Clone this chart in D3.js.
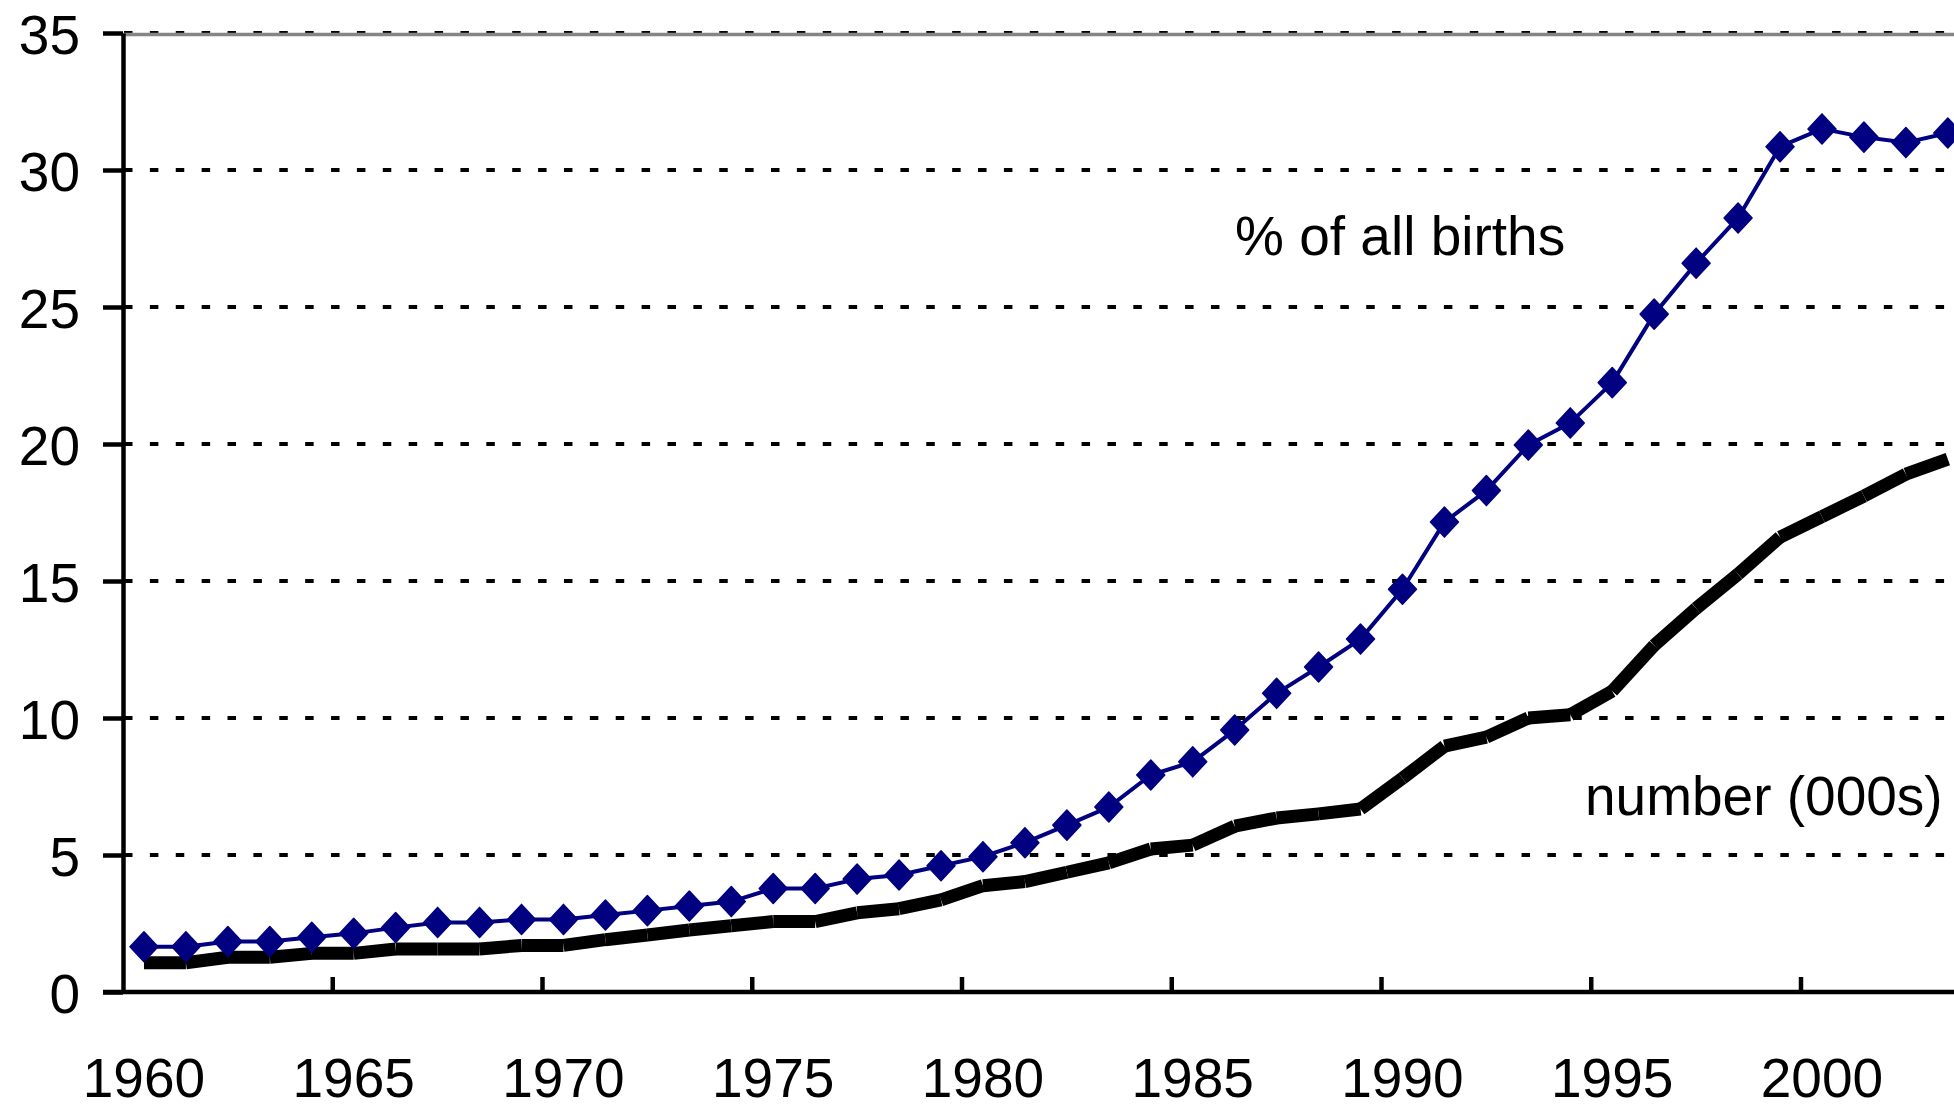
<!DOCTYPE html>
<html>
<head>
<meta charset="utf-8">
<script src="https://cdn.jsdelivr.net/npm/d3@7"></script>
<style>
  html, body { margin: 0; padding: 0; background: #fff; overflow: hidden; }
  svg { display: block; }
  text { font-family: "Liberation Sans", Arial, sans-serif; fill: #000; }
</style>
</head>
<body>
<svg id="chart" width="1954" height="1105"></svg>
<script>
// ---- data ----
const years = [1960,1961,1962,1963,1964,1965,1966,1967,1968,1969,
               1970,1971,1972,1973,1974,1975,1976,1977,1978,1979,
               1980,1981,1982,1983,1984,1985,1986,1987,1988,1989,
               1990,1991,1992,1993,1994,1995,1996,1997,1998,1999,
               2000,2001,2002,2003];
const pctOfAllBirths = [1.65,1.65,1.84,1.84,2.0,2.14,2.35,2.54,2.54,2.65,
                        2.65,2.81,2.97,3.14,3.3,3.78,3.78,4.12,4.27,4.61,
                        4.94,5.45,6.09,6.75,7.92,8.4,9.56,10.9,11.86,12.88,
                        14.7,17.15,18.3,19.96,20.77,22.24,24.74,26.6,28.25,30.85,
                        31.5,31.2,31.0,31.35];
const numberThousands = [1.07,1.07,1.27,1.27,1.41,1.41,1.57,1.57,1.57,1.7,
                         1.7,1.91,2.08,2.26,2.42,2.57,2.57,2.89,3.04,3.36,
                         3.88,4.03,4.37,4.71,5.22,5.36,6.05,6.35,6.5,6.68,
                         7.8,8.97,9.3,10.0,10.12,10.98,12.65,14.0,15.25,16.6,
                         17.35,18.1,18.9,19.45];
const yTicks = [0,5,10,15,20,25,30,35];
const xTickLabels = [1960,1965,1970,1975,1980,1985,1990,1995,2000];
const seriesLabels = ["% of all births", "number (000s)"];

// ---- layout ----
const svg = d3.select("#chart");
const plotLeft = 123, plotTop = 33, plotBottom = 992;
const bandW = 41.95;
const plotRight = plotLeft + years.length * bandW;
const FONT = 55;

const x = d3.scaleBand().domain(years).range([plotLeft, plotRight]).paddingInner(0).paddingOuter(0);
const cx = yr => x(yr) + x.bandwidth() / 2;
const y = d3.scaleLinear().domain([0, 35]).range([plotBottom, plotTop]);

// gridlines (dashed)
svg.append("g").selectAll("line").data(yTicks.filter(d => d > 0)).join("line")
  .attr("x1", plotLeft).attr("x2", plotRight)
  .attr("y1", d => y(d)).attr("y2", d => y(d))
  .attr("stroke", "#000").attr("stroke-width", 4)
  .attr("stroke-dasharray", "8.5 17.38").attr("stroke-dashoffset", -1);

// top plot border (gray)
svg.append("line")
  .attr("x1", plotLeft).attr("x2", 1954)
  .attr("y1", y(35) + 1.5).attr("y2", y(35) + 1.5)
  .attr("stroke", "#858585").attr("stroke-width", 3.5);

// y axis
const yAxis = d3.axisLeft(y).tickValues(yTicks).tickSize(20).tickSizeOuter(0).tickPadding(23);
const gy = svg.append("g").attr("transform", `translate(${plotLeft},0)`).call(yAxis);
gy.select(".domain").attr("stroke", "#000").attr("stroke-width", 4.5);
gy.selectAll(".tick line").attr("stroke", "#000").attr("stroke-width", 4.5);
gy.selectAll(".tick text")
  .attr("font-size", FONT).attr("font-family", "Liberation Sans, Arial, sans-serif")
  .attr("fill", "#000").attr("dy", "0.37em");

// x axis line
svg.append("line")
  .attr("x1", plotLeft - 20).attr("x2", 1954)
  .attr("y1", plotBottom).attr("y2", plotBottom)
  .attr("stroke", "#000").attr("stroke-width", 4.5);

// x tick marks at category boundaries every 5 years (inside)
svg.append("g").selectAll("line").data(xTickLabels.filter(d => d > 1960)).join("line")
  .attr("x1", d => x(d)).attr("x2", d => x(d))
  .attr("y1", plotBottom).attr("y2", plotBottom - 15)
  .attr("stroke", "#000").attr("stroke-width", 4.5);

// x labels centred under categories
svg.append("g").selectAll("text").data(xTickLabels).join("text")
  .attr("x", d => cx(d)).attr("y", 1097)
  .attr("text-anchor", "middle").attr("font-size", FONT)
  .text(d => d);

// number (000s) thick black line, drawn as butt-capped segments
const numPts = years.map((yr, i) => [cx(yr), y(numberThousands[i])]);
svg.append("g").selectAll("line").data(d3.pairs(numPts)).join("line")
  .attr("x1", d => d[0][0]).attr("y1", d => d[0][1])
  .attr("x2", d => d[1][0]).attr("y2", d => d[1][1])
  .attr("stroke", "#000").attr("stroke-width", 13).attr("stroke-linecap", "butt");

// % of all births line with diamond markers
const blue = "#000080";
const line = d3.line().x((d, i) => cx(years[i])).y(d => y(d));
svg.append("path").datum(pctOfAllBirths)
  .attr("d", line).attr("fill", "none")
  .attr("stroke", blue).attr("stroke-width", 4).attr("stroke-linejoin", "round");

svg.append("g").selectAll("path").data(pctOfAllBirths).join("path")
  .attr("transform", (d, i) => `translate(${cx(years[i])},${y(d)})`)
  .attr("d", "M0,-15 L14,0 L0,15 L-14,0 Z")
  .attr("fill", blue).attr("stroke", blue).attr("stroke-width", 1.5).attr("stroke-linejoin", "round");

// series labels
svg.append("text").attr("x", 1235).attr("y", 255).attr("font-size", FONT).text(seriesLabels[0]);
svg.append("text").attr("x", 1585).attr("y", 815).attr("font-size", FONT).text(seriesLabels[1]);
</script>
</body>
</html>
